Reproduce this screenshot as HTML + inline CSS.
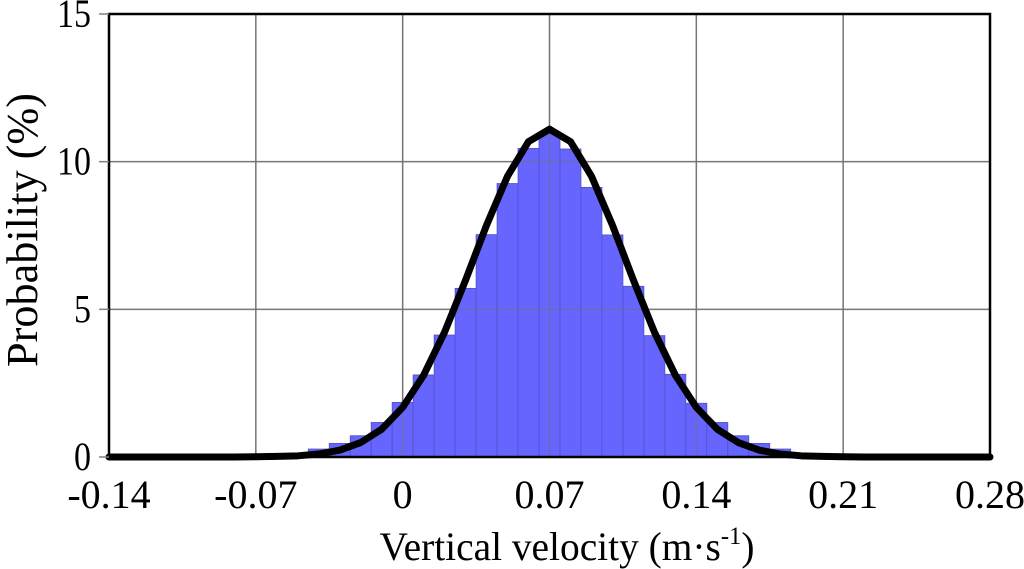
<!DOCTYPE html>
<html><head><meta charset="utf-8"><style>
html,body{margin:0;padding:0;background:#fff;}
svg{display:block;font-family:"Liberation Serif",serif;}
</style></head><body>
<svg id="chart" width="1024" height="569"></svg>
<script>
const xTicks=[-0.14,-0.07,0,0.07,0.14,0.21,0.28];
const xTickLabels=["-0.14","-0.07","0","0.07","0.14","0.21","0.28"];
const yTicks=[0,5,10,15];
const yTickLabels=["0","5","10","15"];
const binCenters=[-0.05,-0.04,-0.03,-0.02,-0.01,0,0.01,0.02,0.03,0.04,0.05,0.06,0.07,0.08,0.09,0.10,0.11,0.12,0.13,0.14,0.15,0.16,0.17,0.18,0.19];
const binValues=[0.1,0.27,0.46,0.72,1.17,1.85,2.78,4.13,5.71,7.53,9.26,10.45,11.0,10.43,9.13,7.52,5.78,4.11,2.80,1.82,1.17,0.72,0.46,0.27,0.1];
const binWidth=0.01;
const curveX=[-0.14,-0.13,-0.12,-0.11,-0.10,-0.09,-0.08,-0.07,-0.06,-0.05,-0.04,-0.03,-0.02,-0.01,0,0.01,0.02,0.03,0.04,0.05,0.06,0.07,0.08,0.09,0.10,0.11,0.12,0.13,0.14,0.15,0.16,0.17,0.18,0.19,0.20,0.21,0.22,0.23,0.24,0.25,0.26,0.27,0.28];
const curveY=[0,0,0,0,0,0,0,0.01,0.02,0.04,0.10,0.23,0.49,0.94,1.68,2.77,4.23,5.99,7.85,9.51,10.68,11.1,10.68,9.51,7.85,5.99,4.23,2.77,1.68,0.94,0.49,0.23,0.10,0.04,0.02,0.01,0,0,0,0,0,0,0];

const NS="http://www.w3.org/2000/svg";
const svg=document.getElementById('chart');
const L=109,R=990,T=14,B=457;
const xS=v=>L+(v-(-0.14))/(0.42)*(R-L);
const yS=v=>B-v/15*(B-T);
function mk(tag,attrs,parent){const e=document.createElementNS(NS,tag);for(const k in attrs)e.setAttribute(k,attrs[k]);(parent||svg).appendChild(e);return e;}

xTicks.forEach((t,i)=>{if(i===0||i===xTicks.length-1)return;
 const g=mk('line',{x1:xS(t),x2:xS(t),y1:T,y2:B,stroke:'#808080','stroke-width':1.5});
 
 });
yTicks.forEach((t,i)=>{if(i===0||i===yTicks.length-1)return;
 const g=mk('line',{x1:L,x2:R,y1:yS(t),y2:yS(t),stroke:'#808080','stroke-width':1.5});
 
 });

binCenters.forEach((c,i)=>{
 const x0=xS(c-binWidth/2),x1=xS(c+binWidth/2),y=yS(binValues[i]);
 const r=mk('rect',{x:x0,y:y,width:x1-x0,height:B-y,fill:'#6666ff',stroke:'#5050c8','stroke-width':0.8});
 
 
});
xTicks.forEach((t,i)=>{if(i===0||i===xTicks.length-1)return;
 const g=mk('line',{x1:xS(t),x2:xS(t),y1:T,y2:B,stroke:'#707070','stroke-width':1.2,opacity:0.6});
 
 });
yTicks.forEach((t,i)=>{if(i===0||i===yTicks.length-1)return;
 const g=mk('line',{x1:L,x2:R,y1:yS(t),y2:yS(t),stroke:'#707070','stroke-width':1.2,opacity:0.6});
 
 });

const fr=mk('rect',{x:L,y:T,width:R-L,height:B-T,fill:'none',stroke:'#000','stroke-width':2.5});



const pts=curveX.map((x,i)=>xS(x)+','+yS(curveY[i])).join(' ');
const pl=mk('polyline',{points:pts,fill:'none',stroke:'#000','stroke-width':7,'stroke-linejoin':'round','stroke-linecap':'round'});



xTicks.forEach((t,i)=>{
 const tx=mk('text',{x:xS(t),y:508,'text-anchor':'middle','font-size':40,fill:'#000'});
 tx.textContent=xTickLabels[i];
 
 
});
yTicks.forEach((t,i)=>{
 const tx=mk('text',{x:91,y:yS(t)+13,'text-anchor':'end','font-size':40,fill:'#000',transform:'translate(91,0) scale(0.85,1) translate(-91,0)'});
 tx.textContent=yTickLabels[i];
 
 
 const tk=mk('line',{x1:L-10,x2:L,y1:yS(t),y2:yS(t),stroke:'#808080','stroke-width':1.5});
 
 
});
</script>
<div style="position:absolute;left:0;top:0;width:1024px;height:569px;pointer-events:none;">
<svg width="1024" height="569" style="font-family:'Liberation Serif',serif;">
<text x="567" y="560" text-anchor="middle" font-size="40" textLength="375" lengthAdjust="spacingAndGlyphs">Vertical velocity (m·s<tspan font-size="25" dy="-16">-1</tspan><tspan dy="16">)</tspan></text>
<text transform="translate(37,230) rotate(-90)" text-anchor="middle" font-size="44" textLength="274" lengthAdjust="spacingAndGlyphs">Probability (%)</text>
</svg>
</div>
</body></html>
